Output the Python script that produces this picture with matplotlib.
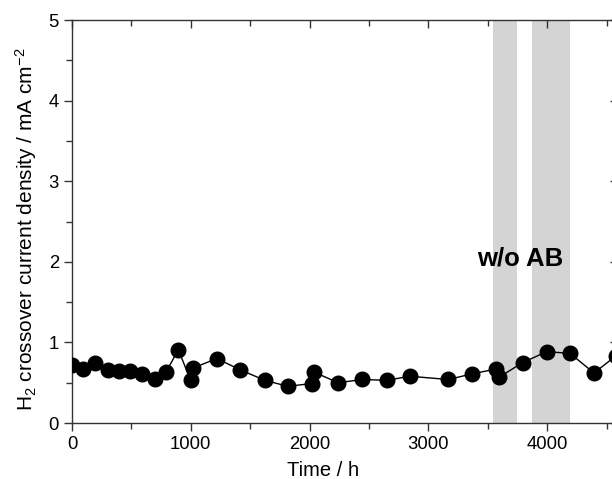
import matplotlib
matplotlib.use("Agg")
import matplotlib.pyplot as plt
from matplotlib.ticker import MultipleLocator

plt.rcParams['font.family'] = ['Liberation Sans', 'DejaVu Sans']
plt.rcParams['mathtext.default'] = 'regular'

# time (h) and H2 crossover current density (mA cm-2)
time_h = [0, 90, 194, 300, 393, 491, 592, 699, 791, 895, 999, 1016, 1218, 1417,
          1622, 1818, 2017, 2040, 2240, 2444, 2649, 2845, 3168, 3367, 3569, 3597,
          3793, 3995, 4192, 4394, 4575]
current = [0.72, 0.67, 0.74, 0.66, 0.65, 0.64, 0.61, 0.55, 0.63, 0.91, 0.53, 0.68,
           0.80, 0.66, 0.53, 0.455, 0.49, 0.63, 0.50, 0.54, 0.53, 0.58, 0.54, 0.61,
           0.67, 0.57, 0.75, 0.885, 0.865, 0.62, 0.83]

# periods without AB
spans = [(3547, 3744), (3875, 4192)]
span_label = "w/o AB"

fig = plt.figure(figsize=(6.12, 4.79), dpi=100)
ax = fig.add_axes([0.1176, 0.1169, 0.893, 0.841])

for a, b in spans:
    ax.axvspan(a, b, color='#d4d4d4', lw=0, zorder=0)

ax.plot(time_h, current, '-', color='black', lw=1.0, marker='o', ms=10.5,
        mfc='black', mec='black', zorder=3, clip_on=True)

ax.text(3771, 2.04, span_label, fontsize=18.5, fontweight='bold',
        ha='center', va='center')

ax.set_xlim(0, 4600)
ax.set_ylim(0, 5)
ax.xaxis.set_major_locator(MultipleLocator(1000))
ax.xaxis.set_minor_locator(MultipleLocator(500))
ax.yaxis.set_major_locator(MultipleLocator(1))
ax.yaxis.set_minor_locator(MultipleLocator(0.5))

for s in ax.spines.values():
    s.set_linewidth(1.0)
    s.set_color('#333333')

ax.tick_params(axis='both', which='both', color='#333333', labelsize=13.3,
               width=1.0)
ax.tick_params(axis='both', which='major', length=6)
ax.tick_params(axis='both', which='minor', length=4)
ax.tick_params(axis='x', which='both', bottom=True, top=True, direction='out')
ax.tick_params(axis='y', which='both', left=True, right=True, direction='out')
# top and right ticks point inward
for t in ax.xaxis.get_major_ticks() + ax.xaxis.get_minor_ticks():
    t.tick2line.set_marker(3)
for t in ax.yaxis.get_major_ticks() + ax.yaxis.get_minor_ticks():
    t.tick2line.set_marker(0)

ax.set_xlabel('Time / h', fontsize=14.5)
ax.set_ylabel('H$_2$ crossover current density / mA cm$^{-2}$', fontsize=15)
ax.xaxis.set_label_coords(0.459, -0.094)
ax.yaxis.set_label_coords(-0.060, 0.481)

fig.savefig('out.png', dpi=100)
